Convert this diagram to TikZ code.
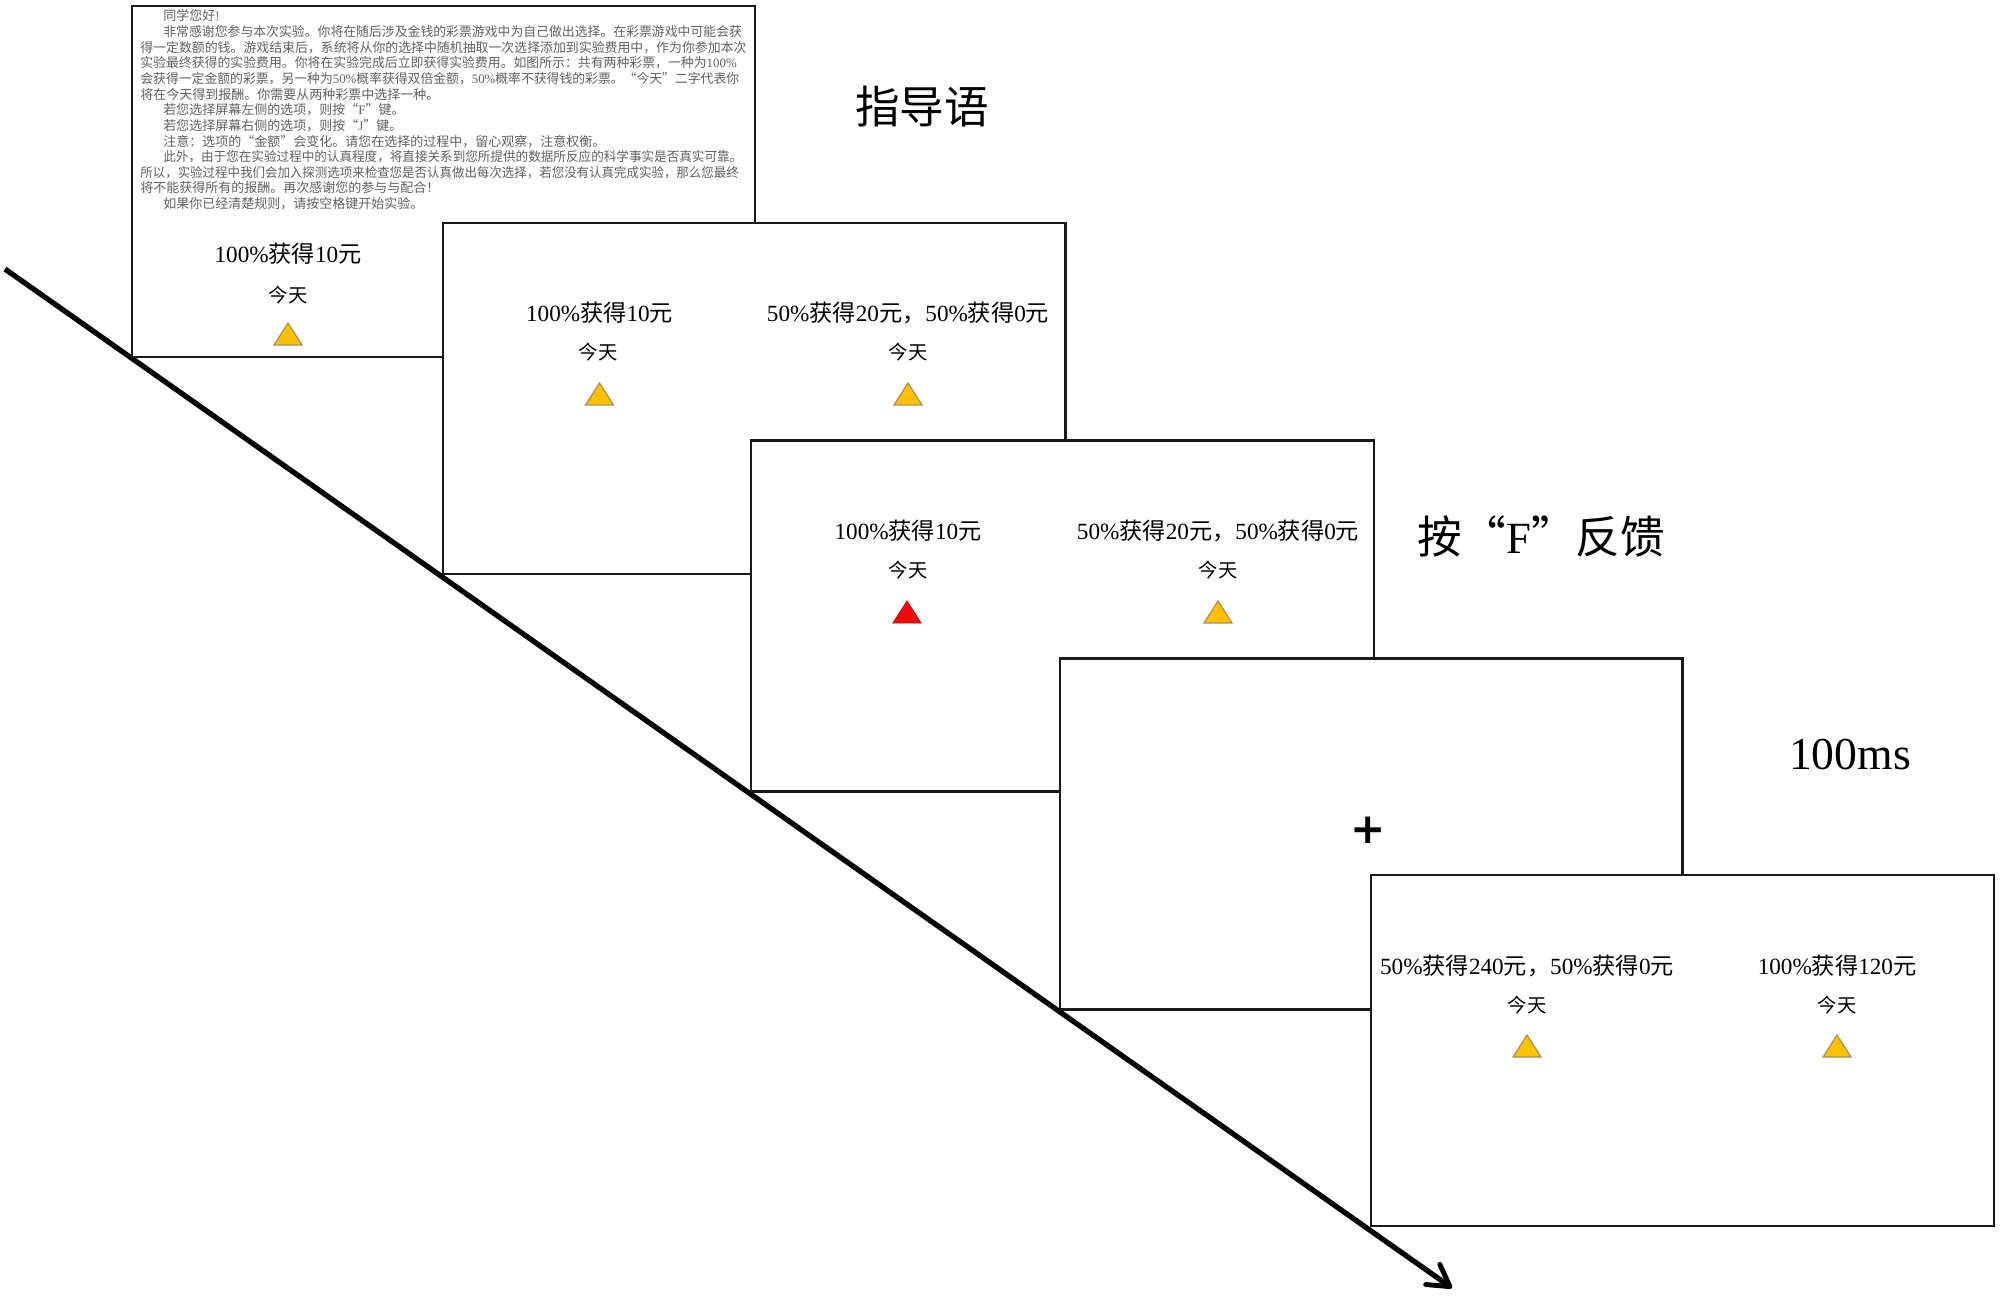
\documentclass[tikz,border=0pt]{standalone}
\usepackage{fontspec}
\usetikzlibrary{arrows.meta}
\setmainfont{Liberation Serif}
\newfontfamily\cjk{Noto Sans CJK SC}
\newfontfamily\latn{Liberation Serif}
\newfontfamily\plusfont{DejaVu Sans}
\definecolor{triorange}{HTML}{FFC000}
\definecolor{tribord}{HTML}{A8925A}
\definecolor{trired}{HTML}{F00A0A}
\newcommand{\squeeze}[2]{\scalebox{#1}[1]{#2}}
\tikzset{
  screenbox/.style={draw=black!90,fill=white,line width=1.2pt,minimum width=12.46cm,minimum height=7.02cm,inner sep=0,outer sep=0},
  amount/.style={inner sep=0,font=\fontsize{13.2}{15}\selectfont},
  daylabel/.style={inner sep=0,font=\cjk\fontsize{11}{13}\selectfont},
  biglabel/.style={inner sep=0,font=\fontsize{25.4}{28}\selectfont},
  instr/.style={anchor=west,inner sep=0,text=black!62,font=\cjk\fontsize{7.4}{8}\selectfont},
  timearrow/.style={line width=3pt,-{Straight Barb[length=12pt,width=14pt,line width=2.8pt,round]}},
  tri/.pic={\path[fill=triorange,draw=tribord,line width=.7pt] (-14,11) -- (0,-11) -- (14,11) -- cycle;},
  redtri/.pic={\path[fill=trired,draw=trired!80!black,line width=.5pt] (-14,11) -- (0,-11) -- (14,11) -- cycle;},
}
\begin{document}
\begin{tikzpicture}[x=0.02cm,y=-0.02cm]
\useasboundingbox (0,0) rectangle (2000,1299);
\fill[white] (0,0) rectangle (2000,1299);
% time arrow
\coordinate (arrowstart) at (5,269);
\coordinate (arrowend) at (1452,1288);
\draw[timearrow] (arrowstart) -- (arrowend);
% screen 1
\node[screenbox] (s1) at (443.5,181.5) {};
\node[instr] (l1) at (163,16) {同学您好{\latn !}};
\node[instr] (l2) at (163,32) {\squeeze{.989}{非常感谢您参与本次实验。你将在随后涉及金钱的彩票游戏中为自己做出选择。在彩票游戏中可能会获}};
\node[instr] (l3) at (140,48) {\squeeze{.992}{得一定数额的钱。游戏结束后，系统将从你的选择中随机抽取一次选择添加到实验费用中，作为你参加本次}};
\node[instr] (l4) at (140,63) {\squeeze{.99}{实验最终获得的实验费用。你将在实验完成后立即获得实验费用。如图所示：共有两种彩票，一种为{\latn 100\%}}};
\node[instr] (l5) at (140,79) {\squeeze{.987}{会获得一定金额的彩票，另一种为{\latn 50\%}概率获得双倍金额，{\latn 50\%}概率不获得钱的彩票。“今天”二字代表你}};
\node[instr] (l6) at (140,95) {将在今天得到报酬。你需要从两种彩票中选择一种。};
\node[instr] (l7) at (163,110) {若您选择屏幕左侧的选项，则按“{\latn F}”键。};
\node[instr] (l8) at (163,126) {若您选择屏幕右侧的选项，则按“{\latn J}”键。};
\node[instr] (l9) at (163,142) {注意：选项的“金额”会变化。请您在选择的过程中，留心观察，注意权衡。};
\node[instr] (l10) at (163,157) {\squeeze{.968}{此外，由于您在实验过程中的认真程度，将直接关系到您所提供的数据所反应的科学事实是否真实可靠。}};
\node[instr] (l11) at (140,173) {\squeeze{.959}{所以，实验过程中我们会加入探测选项来检查您是否认真做出每次选择，若您没有认真完成实验，那么您最终}};
\node[instr] (l12) at (140,188) {将不能获得所有的报酬。再次感谢您的参与与配合！};
\node[instr] (l13) at (163,204) {如果你已经清楚规则，请按空格键开始实验。};
\node[amount] (a1) at (288,254) {100\%{\cjk 获得}10{\cjk 元}};
\node[daylabel] (d1) at (288,295) {今天};
\pic at (288,334) {tri};
\node[biglabel] (title1) at (922,107) {\cjk 指导语};
% screen 2
\node[screenbox] (s2) at (754,398.5) {};
\node[amount] (a2) at (599.5,312.5) {100\%{\cjk 获得}10{\cjk 元}};
\node[daylabel] (d2) at (598,352) {今天};
\pic at (599.5,394) {tri};
\node[amount] (b2) at (908,313) {50\%{\cjk 获得}20{\cjk 元，}50\%{\cjk 获得}0{\cjk 元}};
\node[daylabel] (e2) at (908,352) {今天};
\pic at (908,394) {tri};
% screen 3
\node[screenbox] (s3) at (1062.5,616) {};
\node[amount] (a3) at (908,531) {100\%{\cjk 获得}10{\cjk 元}};
\node[daylabel] (d3) at (908,570) {今天};
\pic at (907,612) {redtri};
\node[amount] (b3) at (1218,531) {50\%{\cjk 获得}20{\cjk 元，}50\%{\cjk 获得}0{\cjk 元}};
\node[daylabel] (e3) at (1218,570) {今天};
\pic at (1218,612) {tri};
\node[biglabel] (title3) at (1541,536) {{\cjk 按“}F{\cjk ”反馈}};
% screen 4
\node[screenbox] (s4) at (1371,834) {};
\node[inner sep=0,font=\plusfont\bfseries\fontsize{24}{26}\selectfont] (fix) at (1368.6,830) {+};
\node[biglabel,font=\fontsize{26}{28}\selectfont] (title4) at (1850,755) {100ms};
% screen 5
\node[screenbox] (s5) at (1682.5,1050.5) {};
\node[amount] (a5) at (1527,966) {50\%{\cjk 获得}240{\cjk 元，}50\%{\cjk 获得}0{\cjk 元}};
\node[daylabel] (d5) at (1527,1005) {今天};
\pic at (1527,1046) {tri};
\node[amount] (b5) at (1837,966) {100\%{\cjk 获得}120{\cjk 元}};
\node[daylabel] (e5) at (1837,1005) {今天};
\pic at (1837,1046) {tri};
\end{tikzpicture}
\end{document}
